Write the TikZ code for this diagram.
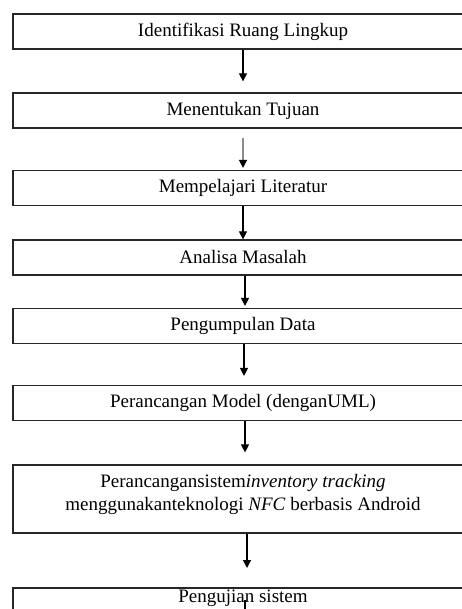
\documentclass[tikz,border=0pt]{standalone}
\usepackage{fontspec}
\setmainfont{Liberation Serif}
\usetikzlibrary{arrows.meta}
\begin{document}
\begin{tikzpicture}[x=1pt,y=-1pt,
  stepbox/.style={draw=black!85, line width=1.2pt, minimum width=460pt, minimum height=35pt, inner sep=0pt, font=\fontsize{19}{23}\selectfont, align=center},
  arr/.style={draw=black, line width=1.2pt, -{Triangle[width=8pt,length=8pt]}},
  garr/.style={draw=black!45, line width=1.4pt, -{Triangle[width=8pt,length=8pt,color=black]}}]
\clip (0,0) rectangle (462,609);
\node[stepbox] (b1) at (243,31.5) {Identifikasi Ruang Lingkup};
\node[stepbox] (b2) at (243,110.5) {Menentukan Tujuan};
\node[stepbox] (b3) at (243,188) {Mempelajari Literatur};
\node[stepbox] (b4) at (243,257.5) {Analisa Masalah};
\node[stepbox] (b5) at (243,326) {Pengumpulan Data};
\node[stepbox] (b6) at (243,403) {Perancangan Model (denganUML)};
\node[stepbox, minimum height=68pt, text depth=14pt] (b7) at (243,499) {Perancangansistem\textit{inventory tracking}\\menggunakanteknologi \textit{NFC} berbasis Android};
\draw[black!85, line width=1.2pt] (13,588) rectangle (473,660);
\node[font=\fontsize{19}{23}\selectfont, inner sep=0pt] (b8) at (243,598) {Pengujian sistem};
\coordinate (e8) at (245,615);
\draw[arr] (b1.south) -- ([yshift=11pt]b2.north);
\draw[garr] ([yshift=-9pt]b2.south) -- ([yshift=2pt]b3.north);
\draw[arr] (b3.south) -- (b4.north);
\draw[arr] ([xshift=2pt]b4.south) -- ([xshift=2pt,yshift=2pt]b5.north);
\draw[arr] ([xshift=1pt]b5.south) -- ([xshift=1pt,yshift=9pt]b6.north);
\draw[arr] ([xshift=2pt]b6.south) -- ([xshift=2pt,yshift=12pt]b7.north);
\draw[arr] ([xshift=4pt]b7.south) -- ([xshift=4pt,yshift=20pt]b7.south |- 0,588);
\draw[line width=1.2pt] (245,600) -- (e8);
\end{tikzpicture}
\end{document}
